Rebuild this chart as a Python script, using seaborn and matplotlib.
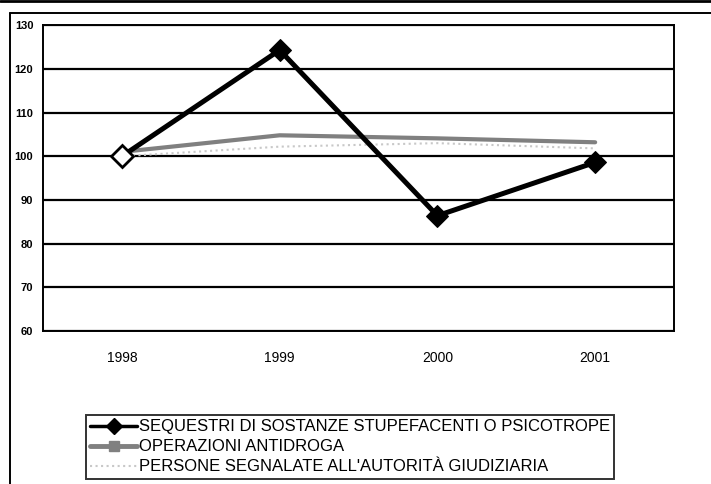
import matplotlib
matplotlib.use("Agg")
import matplotlib.pyplot as plt
import numpy as np
import pandas as pd
import seaborn as sns

years = ["1998", "1999", "2000", "2001"]
sequestri = [100, 124.3, 86.4, 98.6]
operazioni = [101, 104.8, 104.1, 103.2]
persone = [100, 102.2, 103, 101.8]

labels = ["SEQUESTRI DI SOSTANZE STUPEFACENTI O PSICOTROPE",
          "OPERAZIONI ANTIDROGA",
          "PERSONE SEGNALATE ALL'AUTORITÀ GIUDIZIARIA"]

df = pd.DataFrame({
    "pos": list(range(len(years))) * 3,
    "value": sequestri + operazioni + persone,
    "serie": [labels[0]] * 4 + [labels[1]] * 4 + [labels[2]] * 4,
})

sns.set_style("white")
plt.rcParams['font.family'] = ['Liberation Sans', 'DejaVu Sans']
plt.rcParams['text.color'] = 'black'
plt.rcParams['xtick.color'] = 'black'
plt.rcParams['ytick.color'] = 'black'

fig = plt.figure(figsize=(7.11, 4.84), dpi=100)
ax = fig.add_axes([0.0605, 0.316, 0.8875, 0.632])

# faint dotted series first, then grey, then black on top
sns.lineplot(data=df[df.serie == labels[2]], x="pos", y="value", ax=ax,
             color="#c8c8c8", linewidth=1.5, linestyle=":", legend=False)
sns.lineplot(data=df[df.serie == labels[1]], x="pos", y="value", ax=ax,
             color="#808080", linewidth=3, legend=False)
sns.lineplot(data=df[df.serie == labels[0]], x="pos", y="value", ax=ax,
             color="black", linewidth=3.6, marker="D", markersize=11,
             markeredgecolor="black", legend=False)
# first point drawn as open marker like the scan
ax.plot([0], [sequestri[0]], marker="D", markersize=11, color="white",
        markeredgecolor="black", markeredgewidth=2, zorder=5)

ax.set_xlim(-0.5, 3.5)
ax.set_ylim(60, 130)
ax.set_yticks(np.arange(60, 131, 10))
ax.yaxis.grid(True, color="black", linewidth=1.6)
ax.set_axisbelow(True)
ax.set_xticks(range(len(years)))
ax.set_xticklabels(years, fontsize=10)
ax.set_xticks(np.arange(-0.5, 3.6, 1), minor=True)
ax.tick_params(axis="x", which="major", length=0, pad=14)
ax.tick_params(axis="x", which="minor", length=6, width=1.2, color="black", direction="out")
ax.tick_params(axis="y", length=5, width=1.2, color="black", direction="out", pad=2)
for t in ax.get_yticklabels():
    t.set_fontsize(8)
    t.set_fontweight("bold")
ax.set_xlabel("")
ax.set_ylabel("")
for s in ax.spines.values():
    s.set_color("black")
    s.set_linewidth(1.4)

# legend
handles = [
    plt.Line2D([], [], color="black", linewidth=2.5, marker="D", markersize=8),
    plt.Line2D([], [], color="#808080", linewidth=3.5, marker="s", markersize=7,
               markerfacecolor="#808080"),
    plt.Line2D([], [], color="#c8c8c8", linewidth=1.5, linestyle=":"),
]
leg = fig.legend(handles, labels, loc="upper left", bbox_to_anchor=(0.121, 0.142),
                 frameon=True, handlelength=2.8, handletextpad=0.1,
                 labelspacing=0.3, borderpad=0.25, borderaxespad=0, fancybox=False,
                 fontsize=12)
leg.get_frame().set_edgecolor("black")
leg.get_frame().set_linewidth(1.4)

# outer frame lines of the scanned page
fig.add_artist(plt.Line2D([0.014, 0.014], [0.0, 0.973], color="black", linewidth=1.4))
fig.add_artist(plt.Line2D([0.014, 1.0], [0.973, 0.973], color="black", linewidth=1.4))
fig.add_artist(plt.Line2D([0.0, 1.0], [0.998, 0.998], color="black", linewidth=2))

fig.savefig("out.png", dpi=100)
